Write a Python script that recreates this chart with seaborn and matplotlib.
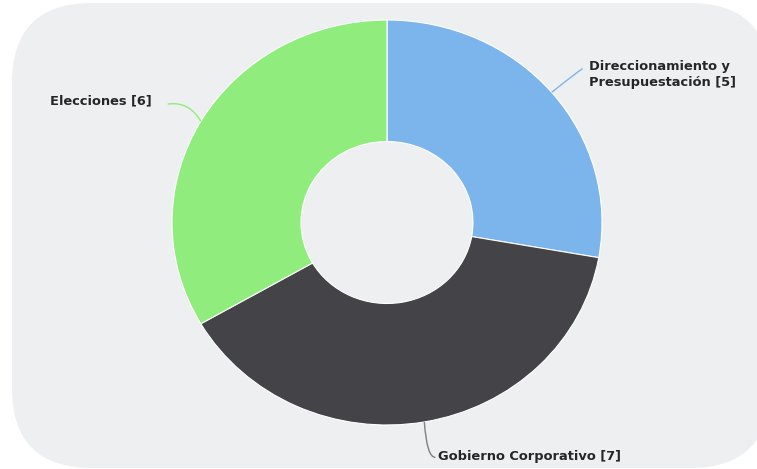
import numpy as np
import matplotlib
matplotlib.use("Agg")
import matplotlib.pyplot as plt
import seaborn as sns
from matplotlib.patches import FancyBboxPatch, PathPatch
from matplotlib.path import Path

# Data
categories = ["Direccionamiento y\nPresupuestación", "Gobierno Corporativo", "Elecciones"]
counts = [5, 7, 6]
palette_hex = ["#7cb5ec", "#434348", "#90ed7d"]

sns.set_theme(style="white")
plt.rcParams["font.family"] = ["DejaVu Sans"]
colors = sns.color_palette(palette_hex)

W, H, DPI = 757, 469, 100
fig = plt.figure(figsize=(W / DPI, H / DPI), dpi=DPI, facecolor="white")

# Rounded panel behind the chart (inches)
panel = FancyBboxPatch((0.12, 0.01), 7.58, 4.65,
                       boxstyle="round,pad=0,rounding_size=0.8",
                       transform=fig.dpi_scale_trans,
                       facecolor="#eeeff1", edgecolor="none", zorder=-10)
fig.patches.append(panel)

# Axes where data units -1..1 span the donut's outer radius
cx, cy = 387, 222.5          # pixel centre (from top)
rx, ry = 215, 202.5          # pixel radii
ax = fig.add_axes([(cx - rx) / W, (H - cy - ry) / H, 2 * rx / W, 2 * ry / H])
ax.set_zorder(5)
ax.set_facecolor("none")
ax.patch.set_alpha(0)

wedges, _ = ax.pie(counts, colors=colors, startangle=90, counterclock=False,
                   radius=1.0, wedgeprops=dict(width=0.6, edgecolor="white", linewidth=0.8))
ax.set_aspect("auto")
ax.set_xlim(-1, 1)
ax.set_ylim(-1, 1)
ax.axis("off")

# Mid-angle of each slice (degrees, standard orientation)
total = sum(counts)
starts = np.cumsum([0] + counts[:-1])
mids = [90 - (s + c / 2) / total * 360 for s, c in zip(starts, counts)]

# Label anchors, connector control points and text alignment per slice
label_specs = [
    dict(ctrl=(0.88, 0.74), end=(0.91, 0.76), text=(0.94, 0.73), ha="left"),
    dict(ctrl=(0.185, -1.16), end=(0.225, -1.16), text=(0.237, -1.155), ha="left"),
    dict(ctrl=(-0.92, 0.60), end=(-1.02, 0.585), text=(-1.093, 0.60), ha="right"),
]

for name, val, ang, col, spec in zip(categories, counts, mids, palette_hex, label_specs):
    a = np.deg2rad(ang)
    start = (np.cos(a), np.sin(a))
    path = Path([start, spec["ctrl"], spec["end"]],
                [Path.MOVETO, Path.CURVE3, Path.CURVE3])
    line_col = "#7f7f84" if col == "#434348" else col
    ax.add_patch(PathPatch(path, facecolor="none", edgecolor=line_col,
                           linewidth=1.0, clip_on=False, zorder=3))
    ax.text(spec["text"][0], spec["text"][1], f"{name} [{val}]",
            ha=spec["ha"], va="center", fontsize=9.4, fontweight="bold",
            color="#262626", linespacing=1.35, clip_on=False, zorder=4)

fig.savefig("out.png", dpi=DPI, facecolor="white")
